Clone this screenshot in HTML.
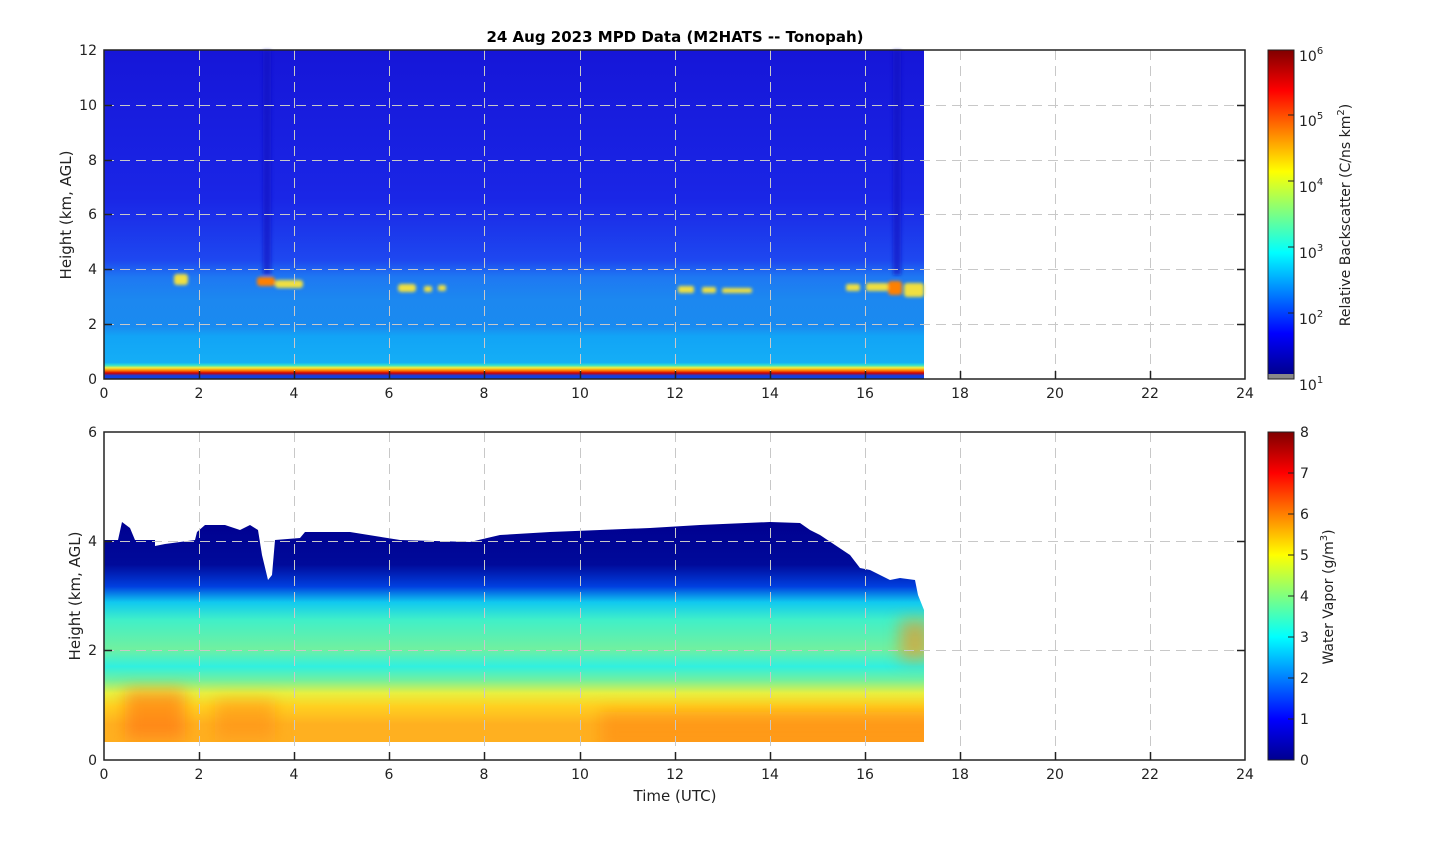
<!DOCTYPE html>
<html><head><meta charset="utf-8"><style>
body{margin:0;background:#fff;}
svg{display:block;font-family:"DejaVu Sans","Liberation Sans",sans-serif;}
</style></head><body>
<svg width="1442" height="841" viewBox="0 0 1442 841" xmlns="http://www.w3.org/2000/svg">
<defs>
<filter id="bl"><feGaussianBlur stdDeviation="8"/></filter>
<filter id="bl2"><feGaussianBlur stdDeviation="1.5"/></filter>
<clipPath id="wvc"><polygon points="104,540 118,540 122,522 130,528 135,540 155,540 155,546 165,544 195,540 197,532 205,525 225,525 240,530 250,525 258,530 262,555 268,580 272,575 275,540 300,538 305,532 350,532 400,540 470,542 500,535 550,532 600,530 650,528 700,525 770,522 800,523 810,530 820,535 835,545 850,555 860,568 870,570 880,575 890,580 900,578 915,580 918,595 924,610 924,742 104,742"/></clipPath>
<linearGradient id="jet" x1="0" y1="1" x2="0" y2="0">
<stop offset="0" stop-color="#00008f"/><stop offset="0.125" stop-color="#0000ff"/>
<stop offset="0.375" stop-color="#00ffff"/><stop offset="0.625" stop-color="#ffff00"/>
<stop offset="0.875" stop-color="#ff0000"/><stop offset="1" stop-color="#800000"/>
</linearGradient>
<linearGradient id="bs" x1="0" y1="50" x2="0" y2="379" gradientUnits="userSpaceOnUse">
<stop offset="0" stop-color="#1616d8"/><stop offset="0.45" stop-color="#1a26e6"/>
<stop offset="0.64" stop-color="#1e48f0"/><stop offset="0.69" stop-color="#1e78f2"/>
<stop offset="0.76" stop-color="#1c88f0"/><stop offset="0.84" stop-color="#1a8af0"/>
<stop offset="0.87" stop-color="#12a4f6"/><stop offset="0.95" stop-color="#14aef6"/>
<stop offset="0.958" stop-color="#30e0d0"/><stop offset="0.966" stop-color="#f0f040"/>
<stop offset="0.974" stop-color="#ff8000"/><stop offset="0.982" stop-color="#d00000"/>
<stop offset="0.99" stop-color="#1040e0"/><stop offset="1" stop-color="#1040e0"/>
</linearGradient>
<linearGradient id="wv" x1="0" y1="520" x2="0" y2="742" gradientUnits="userSpaceOnUse">
<stop offset="0" stop-color="#000090"/><stop offset="0.2" stop-color="#000a9a"/>
<stop offset="0.3" stop-color="#0040e0"/><stop offset="0.37" stop-color="#10c8f0"/>
<stop offset="0.45" stop-color="#40f0c8"/><stop offset="0.58" stop-color="#70f0a0"/>
<stop offset="0.66" stop-color="#30f0e0"/><stop offset="0.72" stop-color="#70f0a0"/>
<stop offset="0.78" stop-color="#e8f040"/><stop offset="0.84" stop-color="#ffd020"/>
<stop offset="0.92" stop-color="#ffb020"/><stop offset="1" stop-color="#ffb020"/>
</linearGradient>
</defs>
<text x="675" y="42" text-anchor="middle" font-size="15" font-weight="bold">24 Aug 2023 MPD Data (M2HATS -- Tonopah)</text>
<rect x="104" y="50" width="820" height="329" fill="url(#bs)"/>
<g filter="url(#bl2)">
<rect x="263" y="50" width="8" height="225" fill="#1010c0" opacity="0.6"/>
<rect x="893" y="50" width="8" height="225" fill="#1010c0" opacity="0.6"/>
<g fill="#f0e040">
<rect x="174" y="274" width="14" height="11" rx="3"/>
<rect x="257" y="277" width="18" height="9" rx="3" fill="#ff8000"/>
<rect x="275" y="280" width="28" height="8" rx="3"/>
<rect x="398" y="284" width="18" height="8" rx="3"/><rect x="424" y="286" width="8" height="6" rx="2"/><rect x="438" y="285" width="8" height="6" rx="2"/>
<rect x="678" y="286" width="16" height="7" rx="2"/><rect x="702" y="287" width="14" height="6" rx="2"/><rect x="722" y="288" width="30" height="5" rx="2"/>
<rect x="846" y="284" width="14" height="7" rx="2"/><rect x="866" y="283" width="22" height="8" rx="2"/><rect x="888" y="281" width="14" height="14" rx="3" fill="#ff8000"/><rect x="904" y="283" width="20" height="14" rx="3"/>
</g></g>
<g clip-path="url(#wvc)">
<rect x="104" y="500" width="820" height="242" fill="url(#wv)"/>
<g filter="url(#bl)" fill="#ff8a10">
<rect x="600" y="712" width="340" height="40" opacity="0.6"/>
<rect x="125" y="690" width="60" height="50" opacity="0.6" fill="#ff7010"/>
<rect x="215" y="700" width="60" height="40" opacity="0.5"/>
<rect x="900" y="620" width="30" height="40" opacity="0.6"/>
</g>
</g>
<g stroke="#c8c8c8" stroke-dasharray="10,6" stroke-width="1">
<path d="M199.5 50V379M294.5 50V379M389.5 50V379M484.5 50V379M580.5 50V379M675.5 50V379M770.5 50V379M865.5 50V379M960.5 50V379M1055.5 50V379M1150.5 50V379"/>
<path d="M104 105.5H1245M104 160.5H1245M104 214.5H1245M104 269.5H1245M104 324.5H1245"/>
<path d="M199.5 432V760M294.5 432V760M389.5 432V760M484.5 432V760M580.5 432V760M675.5 432V760M770.5 432V760M865.5 432V760M960.5 432V760M1055.5 432V760M1150.5 432V760"/>
<path d="M104 541.5H1245M104 650.5H1245"/>
</g>
<g fill="none" stroke="#222" stroke-width="1.5">
<rect x="104" y="50" width="1141" height="329"/>
<rect x="104" y="432" width="1141" height="328"/>
<path d="M199.5 379v-8M294.5 379v-8M389.5 379v-8M484.5 379v-8M580.5 379v-8M675.5 379v-8M770.5 379v-8M865.5 379v-8M960.5 379v-8M1055.5 379v-8M1150.5 379v-8"/>
<path d="M199.5 760v-8M294.5 760v-8M389.5 760v-8M484.5 760v-8M580.5 760v-8M675.5 760v-8M770.5 760v-8M865.5 760v-8M960.5 760v-8M1055.5 760v-8M1150.5 760v-8"/>
<path d="M104 105.5h8M104 160.5h8M104 214.5h8M104 269.5h8M104 324.5h8M1245 105.5h-8M1245 160.5h-8M1245 214.5h-8M1245 269.5h-8M1245 324.5h-8"/>
<path d="M104 541.5h8M104 650.5h8M1245 541.5h-8M1245 650.5h-8"/>
</g>
<g font-size="14" fill="#222" text-anchor="middle">
<text x="104" y="398">0</text><text x="199" y="398">2</text><text x="294" y="398">4</text><text x="389" y="398">6</text><text x="484" y="398">8</text><text x="580" y="398">10</text><text x="675" y="398">12</text><text x="770" y="398">14</text><text x="865" y="398">16</text><text x="960" y="398">18</text><text x="1055" y="398">20</text><text x="1150" y="398">22</text><text x="1245" y="398">24</text>
<text x="104" y="779">0</text><text x="199" y="779">2</text><text x="294" y="779">4</text><text x="389" y="779">6</text><text x="484" y="779">8</text><text x="580" y="779">10</text><text x="675" y="779">12</text><text x="770" y="779">14</text><text x="865" y="779">16</text><text x="960" y="779">18</text><text x="1055" y="779">20</text><text x="1150" y="779">22</text><text x="1245" y="779">24</text>
<text x="675" y="801" font-size="15">Time (UTC)</text>
</g>
<g font-size="14" fill="#222" text-anchor="end">
<text x="97" y="55">12</text><text x="97" y="110">10</text><text x="97" y="165">8</text><text x="97" y="219">6</text><text x="97" y="274">4</text><text x="97" y="329">2</text><text x="97" y="384">0</text>
<text x="97" y="437">6</text><text x="97" y="546">4</text><text x="97" y="655">2</text><text x="97" y="765">0</text>
</g>
<text transform="translate(71,215) rotate(-90)" text-anchor="middle" font-size="15" fill="#222">Height (km, AGL)</text>
<text transform="translate(80,596) rotate(-90)" text-anchor="middle" font-size="15" fill="#222">Height (km, AGL)</text>
<rect x="1268" y="50" width="26" height="324" fill="url(#jet)"/>
<rect x="1268" y="374" width="26" height="5" fill="#888"/>
<rect x="1268" y="50" width="26" height="329" fill="none" stroke="#222" stroke-width="1"/>
<rect x="1268" y="432" width="26" height="328" fill="url(#jet)" stroke="#222" stroke-width="1"/>
<g stroke="#222" stroke-width="1"><path d="M1288 115h6M1288 181h6M1288 247h6M1288 313h6M1288 473h6M1288 514h6M1288 555h6M1288 596h6M1288 637h6M1288 678h6M1288 719h6"/></g>
<g font-size="14" fill="#222">
<text x="1299" y="61">10<tspan font-size="10" dy="-7">6</tspan></text>
<text x="1299" y="126">10<tspan font-size="10" dy="-7">5</tspan></text>
<text x="1299" y="192">10<tspan font-size="10" dy="-7">4</tspan></text>
<text x="1299" y="258">10<tspan font-size="10" dy="-7">3</tspan></text>
<text x="1299" y="324">10<tspan font-size="10" dy="-7">2</tspan></text>
<text x="1299" y="390">10<tspan font-size="10" dy="-7">1</tspan></text>
<text x="1300" y="437">8</text><text x="1300" y="478">7</text><text x="1300" y="519">6</text><text x="1300" y="560">5</text><text x="1300" y="601">4</text><text x="1300" y="642">3</text><text x="1300" y="683">2</text><text x="1300" y="724">1</text><text x="1300" y="765">0</text>
</g>
<text transform="translate(1350,215) rotate(-90)" text-anchor="middle" font-size="14" fill="#222">Relative Backscatter (C/ns km<tspan font-size="10" dy="-6">2</tspan><tspan dy="6">)</tspan></text>
<text transform="translate(1333,597) rotate(-90)" text-anchor="middle" font-size="14" fill="#222">Water Vapor (g/m<tspan font-size="10" dy="-6">3</tspan><tspan dy="6">)</tspan></text>
</svg>
</body></html>
